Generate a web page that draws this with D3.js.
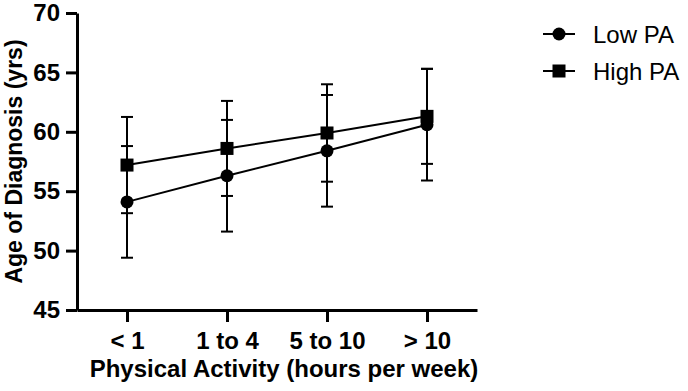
<!DOCTYPE html>
<html>
<head>
<meta charset="utf-8">
<script src="https://cdn.jsdelivr.net/npm/d3@7"></script>
<style>
  body { margin: 0; background: #fff; }
  svg { font-family: "Liberation Sans", Arial, sans-serif; }
  .axis path, .axis line { stroke: #000; stroke-width: 3px; }
  .axis text { font-size: 24px; font-weight: bold; fill: #000; }
</style>
</head>
<body>
<svg id="chart" width="688" height="391"></svg>
<script>
const categories = ["< 1", "1 to 4", "5 to 10", "> 10"];
const lowMean  = [54.1, 56.3, 58.4, 60.6];
const lowErr   = [4.7, 4.7, 4.7, 4.7];
const highMean = [57.2, 58.6, 59.9, 61.3];
const highErr  = [4.05, 4.0, 4.1, 4.0];
const yTicks   = [45, 50, 55, 60, 65, 70];

const series = [
  { name: "Low PA",  shape: "circle", mean: lowMean,  err: lowErr },
  { name: "High PA", shape: "square", mean: highMean, err: highErr }
];

const svg = d3.select("#chart");
const plot = { left: 77, right: 477, top: 13, bottom: 310 };

const x = d3.scalePoint().domain(categories).range([plot.left, plot.right]).padding(0.5);
const y = d3.scaleLinear().domain([45, 70]).range([plot.bottom, plot.top]);

// axes
svg.append("g")
  .attr("class", "axis")
  .attr("transform", `translate(0,${plot.bottom})`)
  .call(d3.axisBottom(x).tickSize(12).tickSizeOuter(0).tickPadding(10));

svg.append("g")
  .attr("class", "axis")
  .attr("transform", `translate(${plot.left},0)`)
  .call(d3.axisLeft(y).tickValues(yTicks).tickSize(11).tickSizeOuter(0).tickPadding(6));

// axis titles
svg.append("text")
  .attr("x", 284).attr("y", 377)
  .attr("text-anchor", "middle")
  .style("font-size", "24px").style("font-weight", "bold")
  .text("Physical Activity (hours per week)");

svg.append("text")
  .attr("transform", `translate(22,${(plot.top + plot.bottom) / 2}) rotate(-90)`)
  .attr("text-anchor", "middle")
  .style("font-size", "23px").style("font-weight", "bold")
  .text("Age of Diagnosis (yrs)");

const capW = 6;

// error bars
series.forEach(s => {
  const g = svg.append("g").attr("stroke", "#000").attr("stroke-width", 2);
  categories.forEach((c, i) => {
    const cx = x(c), lo = y(s.mean[i] - s.err[i]), hi = y(s.mean[i] + s.err[i]);
    g.append("line").attr("x1", cx).attr("x2", cx).attr("y1", lo).attr("y2", hi);
    g.append("line").attr("x1", cx - capW).attr("x2", cx + capW).attr("y1", lo).attr("y2", lo);
    g.append("line").attr("x1", cx - capW).attr("x2", cx + capW).attr("y1", hi).attr("y2", hi);
  });
});

const line = d3.line().x((d, i) => x(categories[i])).y(d => y(d));

series.forEach(s => {
  svg.append("path")
    .datum(s.mean)
    .attr("d", line)
    .attr("fill", "none")
    .attr("stroke", "#000")
    .attr("stroke-width", 2);
});

function drawMarker(g, shape, cx, cy) {
  if (shape === "circle") {
    g.append("circle").attr("cx", cx).attr("cy", cy).attr("r", 6.5).attr("fill", "#000");
  } else {
    g.append("rect").attr("x", cx - 6.5).attr("y", cy - 6.5).attr("width", 13).attr("height", 13).attr("fill", "#000");
  }
}

series.forEach(s => {
  const g = svg.append("g");
  s.mean.forEach((v, i) => drawMarker(g, s.shape, x(categories[i]), y(v)));
});

// legend
const legend = svg.append("g");
series.forEach((s, i) => {
  const ly = 34 + i * 37;
  legend.append("line")
    .attr("x1", 543).attr("x2", 575).attr("y1", ly).attr("y2", ly)
    .attr("stroke", "#000").attr("stroke-width", 2);
  drawMarker(legend, s.shape, 559, ly);
  legend.append("text")
    .attr("x", 593).attr("y", ly)
    .attr("dy", "0.36em")
    .style("font-size", "24px")
    .text(s.name);
});
</script>
</body>
</html>
